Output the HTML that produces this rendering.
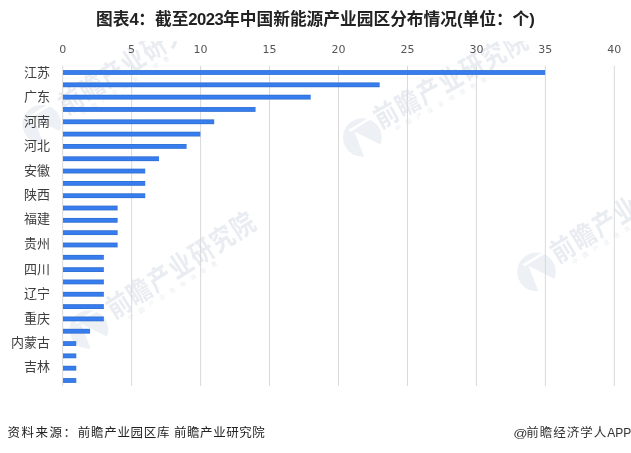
<!DOCTYPE html>
<html lang="zh-CN"><head><meta charset="utf-8"><title>图表4</title>
<style>
html,body{margin:0;padding:0;background:#fff;}
body{width:631px;height:453px;position:relative;overflow:hidden;font-family:"Liberation Sans","Noto Sans CJK SC",sans-serif;color:#333;}
.abs{position:absolute;}
.title{left:0px;width:631px;top:8.3px;text-align:center;font-weight:bold;font-size:16.72px;line-height:24px;color:#222;white-space:nowrap;}
svg.chart{position:absolute;left:0;top:0;}
svg text{font-family:"Liberation Sans","Noto Sans CJK SC",sans-serif;}
.title i{font-style:normal;letter-spacing:-0.6px;}
.xl{position:absolute;top:42px;width:40px;margin-left:-20px;text-align:center;font-family:"DejaVu Sans","Liberation Sans",sans-serif;font-size:11px;line-height:16px;color:#555;}
.yl{position:absolute;left:0;width:50px;text-align:right;font-size:13px;line-height:16px;color:#3d3d3d;white-space:nowrap;}
.src{top:423.8px;font-size:12.5px;line-height:18px;color:#222;white-space:nowrap;}
.app{right:-0.3px;top:423.8px;font-size:12.5px;line-height:18px;color:#333;white-space:nowrap;letter-spacing:1px;}
.app u{text-decoration:none;display:inline-block;letter-spacing:0;transform:scale(1.13,0.86);transform-origin:50% 72%;margin:0 -0.5px 0 0;}
.app b{font-weight:normal;letter-spacing:0;font-size:12px;}
</style></head><body>

<svg class="chart" width="631" height="453" viewBox="0 0 631 453">
<defs><linearGradient id="bg" x1="0" y1="0" x2="0" y2="1"><stop offset="0" stop-color="#2f6ecb"/><stop offset="0.32" stop-color="#377df0"/><stop offset="0.68" stop-color="#377df0"/><stop offset="1" stop-color="#2f6ecb"/></linearGradient><clipPath id="wc"><rect x="0" y="41" width="631" height="412"/></clipPath></defs>
<g clip-path="url(#wc)" fill="#e9ecf1">
<g transform="translate(41.8,124.2)"><circle r="19.3" fill="#edf0f4"/><path d="M-8.1,-6.1 L6,30 L30,30 L30,13 Z" fill="#fff"/><path d="M7.5,-19 L-13,-6.6" stroke="#fff" stroke-width="2.6" fill="none"/></g>
<g transform="translate(71.1,100.3) rotate(-33)"><text x="-14" y="10.3" font-size="27.5" font-weight="700" transform="scale(0.84,1)" textLength="203" lengthAdjust="spacing">前瞻产业研究院</text><text x="1" y="19.5" font-size="6" textLength="104" lengthAdjust="spacing">中国产业咨询领导者</text></g>
<g transform="translate(362.4,137.5)"><circle r="19.3" fill="#edf0f4"/><path d="M-8.1,-6.1 L6,30 L30,30 L30,13 Z" fill="#fff"/><path d="M7.5,-19 L-13,-6.6" stroke="#fff" stroke-width="2.6" fill="none"/></g>
<g transform="translate(386.1,114.3) rotate(-28.9)"><text x="-14" y="10.3" font-size="27.5" font-weight="700" transform="scale(0.84,1)" textLength="203" lengthAdjust="spacing">前瞻产业研究院</text><text x="1" y="19.5" font-size="6" textLength="104" lengthAdjust="spacing">中国产业咨询领导者</text></g>
<g transform="translate(88.9,329.5)"><circle r="19.3" fill="#edf0f4"/><path d="M-8.1,-6.1 L6,30 L30,30 L30,13 Z" fill="#fff"/><path d="M7.5,-19 L-13,-6.6" stroke="#fff" stroke-width="2.6" fill="none"/></g>
<g transform="translate(118.5,304.5) rotate(-32.6)"><text x="-14" y="10.3" font-size="27.5" font-weight="700" transform="scale(0.84,1)" textLength="203" lengthAdjust="spacing">前瞻产业研究院</text><text x="1" y="19.5" font-size="6" textLength="104" lengthAdjust="spacing">中国产业咨询领导者</text></g>
<g transform="translate(536.5,271.9)"><circle r="19.3" fill="#edf0f4"/><path d="M-8.1,-6.1 L6,30 L30,30 L30,13 Z" fill="#fff"/><path d="M7.5,-19 L-13,-6.6" stroke="#fff" stroke-width="2.6" fill="none"/></g>
<g transform="translate(562.6,248.7) rotate(-31.7)"><text x="-14" y="10.3" font-size="27.5" font-weight="700" transform="scale(0.84,1)" textLength="203" lengthAdjust="spacing">前瞻产业研究院</text><text x="1" y="19.5" font-size="6" textLength="104" lengthAdjust="spacing">中国产业咨询领导者</text></g>
</g>
<rect x="62.20" y="65.7" width="1" height="320.3" fill="#d9d9d9"/>
<rect x="131.15" y="65.7" width="1" height="320.3" fill="#d9d9d9"/>
<rect x="200.10" y="65.7" width="1" height="320.3" fill="#d9d9d9"/>
<rect x="269.05" y="65.7" width="1" height="320.3" fill="#d9d9d9"/>
<rect x="338.00" y="65.7" width="1" height="320.3" fill="#d9d9d9"/>
<rect x="406.95" y="65.7" width="1" height="320.3" fill="#d9d9d9"/>
<rect x="475.90" y="65.7" width="1" height="320.3" fill="#d9d9d9"/>
<rect x="544.85" y="65.7" width="1" height="320.3" fill="#d9d9d9"/>
<rect x="613.80" y="65.7" width="1" height="320.3" fill="#d9d9d9"/>
<rect x="63" y="70.10" width="482.15" height="4.8" fill="url(#bg)"/>
<rect x="63" y="82.42" width="316.67" height="4.8" fill="url(#bg)"/>
<rect x="63" y="94.74" width="247.72" height="4.8" fill="url(#bg)"/>
<rect x="63" y="107.06" width="192.56" height="4.8" fill="url(#bg)"/>
<rect x="63" y="119.38" width="151.19" height="4.8" fill="url(#bg)"/>
<rect x="63" y="131.70" width="137.40" height="4.8" fill="url(#bg)"/>
<rect x="63" y="144.02" width="123.61" height="4.8" fill="url(#bg)"/>
<rect x="63" y="156.34" width="96.03" height="4.8" fill="url(#bg)"/>
<rect x="63" y="168.66" width="82.24" height="4.8" fill="url(#bg)"/>
<rect x="63" y="180.98" width="82.24" height="4.8" fill="url(#bg)"/>
<rect x="63" y="193.30" width="82.24" height="4.8" fill="url(#bg)"/>
<rect x="63" y="205.62" width="54.66" height="4.8" fill="url(#bg)"/>
<rect x="63" y="217.94" width="54.66" height="4.8" fill="url(#bg)"/>
<rect x="63" y="230.26" width="54.66" height="4.8" fill="url(#bg)"/>
<rect x="63" y="242.58" width="54.66" height="4.8" fill="url(#bg)"/>
<rect x="63" y="254.90" width="40.87" height="4.8" fill="url(#bg)"/>
<rect x="63" y="267.22" width="40.87" height="4.8" fill="url(#bg)"/>
<rect x="63" y="279.54" width="40.87" height="4.8" fill="url(#bg)"/>
<rect x="63" y="291.86" width="40.87" height="4.8" fill="url(#bg)"/>
<rect x="63" y="304.18" width="40.87" height="4.8" fill="url(#bg)"/>
<rect x="63" y="316.50" width="40.87" height="4.8" fill="url(#bg)"/>
<rect x="63" y="328.82" width="27.08" height="4.8" fill="url(#bg)"/>
<rect x="63" y="341.14" width="13.29" height="4.8" fill="url(#bg)"/>
<rect x="63" y="353.46" width="13.29" height="4.8" fill="url(#bg)"/>
<rect x="63" y="365.78" width="13.29" height="4.8" fill="url(#bg)"/>
<rect x="63" y="378.10" width="13.29" height="4.8" fill="url(#bg)"/>
</svg>
<div class="abs title">图表<i>4</i>：截至<i>2023</i>年中国新能源产业园区分布情况(单位：个)</div>
<div class="xl" style="left:62.7px">0</div>
<div class="xl" style="left:131.6px">5</div>
<div class="xl" style="left:200.6px">10</div>
<div class="xl" style="left:269.5px">15</div>
<div class="xl" style="left:338.5px">20</div>
<div class="xl" style="left:407.4px">25</div>
<div class="xl" style="left:476.4px">30</div>
<div class="xl" style="left:545.3px">35</div>
<div class="xl" style="left:614.3px">40</div>
<div class="yl" style="top:64.7px">江苏</div>
<div class="yl" style="top:88.6px">广东</div>
<div class="yl" style="top:113.5px">河南</div>
<div class="yl" style="top:137.5px">河北</div>
<div class="yl" style="top:162.8px">安徽</div>
<div class="yl" style="top:186.6px">陕西</div>
<div class="yl" style="top:210.8px">福建</div>
<div class="yl" style="top:236.0px">贵州</div>
<div class="yl" style="top:261.5px">四川</div>
<div class="yl" style="top:285.7px">辽宁</div>
<div class="yl" style="top:310.6px">重庆</div>
<div class="yl" style="top:335.1px">内蒙古</div>
<div class="yl" style="top:358.9px">吉林</div>
<div class="abs src" style="left:7.5px;letter-spacing:1.5px">资料来源：</div>
<div class="abs src" style="left:77.8px;letter-spacing:0.7px">前瞻产业园区库</div>
<div class="abs src" style="left:174px;letter-spacing:0.55px">前瞻产业研究院</div>
<div class="abs app"><u>@</u>前瞻经济学人<b>APP</b></div>
</body></html>
